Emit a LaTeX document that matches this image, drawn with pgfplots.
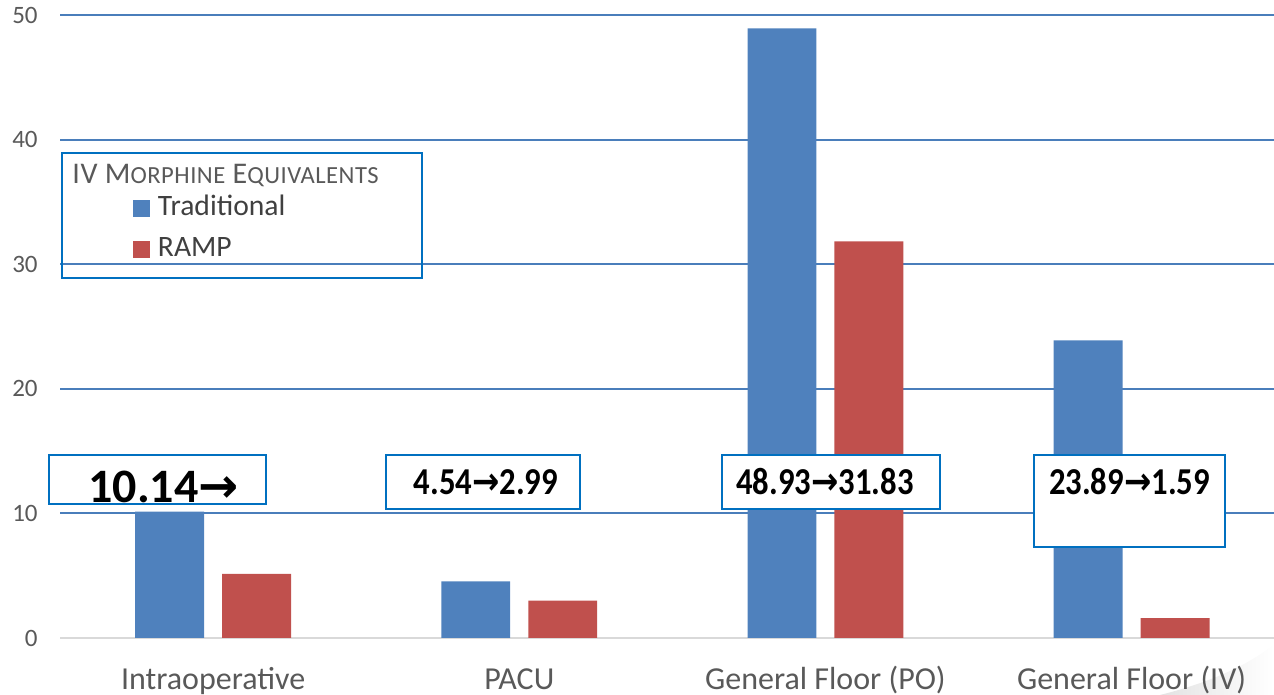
\documentclass[border=0pt]{standalone}
\usepackage{fontspec}
\setmainfont{Carlito}
\newfontfamily\arrowfont{DejaVu Sans}
\usepackage{graphicx}
\usepackage{pgfplots}
\pgfplotsset{compat=1.18}

\definecolor{tradblue}{HTML}{4F81BD}
\definecolor{rampred}{HTML}{C0504D}
\definecolor{gridblue}{HTML}{4A7EBB}
\definecolor{boxblue}{HTML}{0070C0}
\definecolor{labelgray}{HTML}{595959}
\definecolor{legendgray}{HTML}{404040}
\definecolor{basegray}{HTML}{D9D9D9}

% square legend swatch
\pgfplotsset{sqlegend/.style={legend image code/.code={\fill[##1] (0pt,-4.25pt) rectangle (8.5pt,4.25pt);}}}

% small-caps letters set by hand
\newcommand{\smc}[1]{{\fontsize{12.3}{13}\selectfont\addfontfeatures{LetterSpace=2}#1}}
\newcommand{\arr}{{\arrowfont\bfseries →}}
\newcommand{\boxtext}[1]{\scalebox{0.86}[1]{\fontsize{19}{19}\selectfont\bfseries #1}}

\begin{document}
\begin{tikzpicture}
% page-curl shadow in the lower right corner, behind everything
\shade[shading angle=135, left color=gray!22, right color=white]
  (550pt,-28.5pt) .. controls (580pt,-21pt) and (597.5pt,-11pt) .. (607pt,-3pt)
  -- (607pt,-28.5pt) -- cycle;

\begin{axis}[
  name=ax, at={(0,0)}, anchor=south west,
  scale only axis, width=607pt, height=311.5pt,
  xmin=-0.5, xmax=3.465, ymin=0, ymax=50,
  axis line style={draw=none},
  major tick length=0pt,
  xtick={0,1,2,3},
  xticklabels={Intraoperative, PACU, General Floor (PO), General Floor (IV)},
  ytick={10,20,30,40,50},
  extra y ticks={0},
  extra y tick style={grid style={basegray, line width=1pt}},
  ymajorgrids,
  grid style={gridblue, line width=0.9pt},
  /pgf/number format/assume math mode=true,
  yticklabel style={font=\fontsize{12.5}{13}\selectfont, text=labelgray, anchor=east, inner sep=0pt, xshift=-11pt},
  xticklabel style={font=\fontsize{16}{16}\selectfont, text=labelgray, anchor=base, inner sep=0pt, yshift=-26pt},
  legend style={at={(0.0601,0.6573)}, anchor=west, draw=none, fill=none,
    inner sep=0pt, outer sep=0pt, row sep=7.5pt, column sep=4pt,
    nodes={inner sep=0pt, text height=10pt, text depth=3pt,
      font=\fontsize{14.8}{15}\selectfont, text=legendgray}},
  legend cell align=left,
]
\addplot[ybar, bar width=0.225, bar shift=-0.142, fill=tradblue, draw=none, sqlegend]
  coordinates {(0,10.14) (1,4.54) (2,48.93) (3,23.89)};
\addlegendentry{Traditional}
\addplot[ybar, bar width=0.225, bar shift=0.142, fill=rampred, draw=none, sqlegend]
  coordinates {(0,5.14) (1,2.99) (2,31.83) (3,1.59)};
\addlegendentry{RAMP}
\end{axis}

% legend frame and title
\draw[boxblue, line width=1pt] (1pt,180pt) rectangle (181pt,242.5pt);
\node[anchor=west, text=labelgray, inner sep=0pt] at (6pt,231pt)
  {\fontsize{15}{15}\selectfont\addfontfeatures{LetterSpace=2}IV M\smc{ORPHINE} E\smc{QUIVALENTS}};

% value call-outs
\draw[boxblue, line width=1pt, fill=white] (-5.5pt,67pt) rectangle (103pt,91.5pt);
\node[anchor=base west, inner sep=0pt] at (14pt,67.5pt)
  {\fontsize{24}{24}\selectfont\bfseries 10.14\arr};

\draw[boxblue, line width=1pt, fill=white] (163pt,64.5pt) rectangle (260pt,91.5pt);
\node[inner sep=0pt] at (213pt,78pt) {\boxtext{4.54\arr 2.99}};

\draw[boxblue, line width=1pt, fill=white] (331pt,64.5pt) rectangle (440pt,91.5pt);
\node[inner sep=0pt] at (382.5pt,78pt) {\boxtext{48.93\arr 31.83}};

\draw[boxblue, line width=1pt, fill=white] (487pt,45.5pt) rectangle (582.5pt,91.5pt);
\node[inner sep=0pt] at (534.75pt,78pt) {\boxtext{23.89\arr 1.59}};

\pgfresetboundingbox
\useasboundingbox (-30pt,-28.5pt) rectangle (607pt,319pt);
\end{tikzpicture}
\end{document}
